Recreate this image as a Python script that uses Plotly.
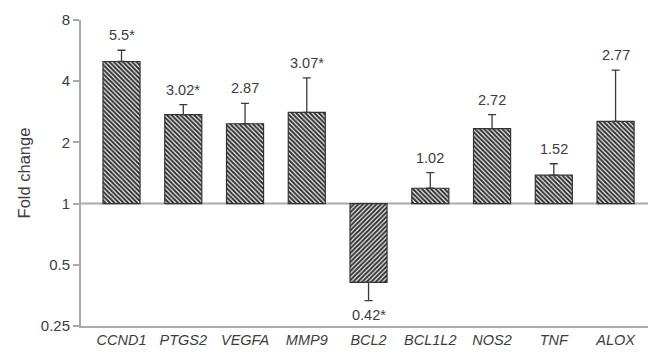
import math
import plotly.graph_objects as go

genes = ["CCND1", "PTGS2", "VEGFA", "MMP9", "BCL2", "BCL1L2", "NOS2", "TNF", "ALOX"]
bar_values = [5.0, 2.74, 2.47, 2.81, 0.41, 1.19, 2.34, 1.38, 2.54]
error_ends = [5.68, 3.07, 3.11, 4.15, 0.333, 1.42, 2.74, 1.57, 4.53]
labels = ["5.5*", "3.02*", "2.87", "3.07*", "0.42*", "1.02", "2.72", "1.52", "2.77"]
y_ticks = [0.25, 0.5, 1, 2, 4, 8]

base = 1.0
ymin, ymax = 0.25, 8
sizes = [v - base for v in bar_values]
err_plus = [max(e - v, 0) if v >= base else 0 for v, e in zip(bar_values, error_ends)]
err_minus = [max(v - e, 0) if v < base else 0 for v, e in zip(bar_values, error_ends)]
shapes_pat = ["/" if v < base else "\\" for v in bar_values]

fig = go.Figure()
fig.add_trace(go.Bar(
    x=genes, y=sizes, base=[base] * len(genes), width=0.6,
    marker=dict(
        color="white",
        line=dict(color="#333333", width=1.2),
        pattern=dict(shape=shapes_pat, fgcolor="#2e2e2e", bgcolor="#eeeeee",
                     size=3.2, solidity=0.6, fillmode="replace"),
    ),
    error_y=dict(type="data", symmetric=False, array=err_plus, arrayminus=err_minus,
                 color="#3a3a3a", thickness=1.3, width=4),
    showlegend=False,
))

annotations = []
for g, v, e, t in zip(genes, bar_values, error_ends, labels):
    up = v >= base
    annotations.append(dict(
        x=g, y=math.log10(e), xref="x", yref="y", text=t, showarrow=False,
        yanchor="bottom" if up else "top", yshift=5 if up else -4,
        font=dict(family="Liberation Sans, Arial, sans-serif", size=14.5, color="#3d3d3d"),
    ))

base_frac = (math.log10(base) - math.log10(ymin)) / (math.log10(ymax) - math.log10(ymin))

# page body has an 8px margin, so the figure is sized and offset to compensate
fig.update_layout(
    width=648, height=348,
    margin=dict(l=73, r=8, t=12, b=30),
    plot_bgcolor="white", paper_bgcolor="white",
    annotations=annotations,
    shapes=[dict(type="line", xref="paper", x0=0, x1=1, yref="paper",
                 y0=base_frac, y1=base_frac,
                 line=dict(color="#aaaaaa", width=2), layer="below")],
    font=dict(family="Liberation Sans, Arial, sans-serif", color="#3d3d3d"),
)
fig.update_yaxes(
    type="log", range=[math.log10(ymin), math.log10(ymax)],
    tickvals=y_ticks, ticktext=[str(v) for v in y_ticks],
    showgrid=False, zeroline=False, automargin=False,
    showline=True, linecolor="#aaaaaa", linewidth=2,
    ticks="outside", ticklen=6, tickcolor="#aaaaaa", tickwidth=1.5,
    tickfont=dict(size=15, color="#3d3d3d"),
    title=dict(text="Fold change", font=dict(size=16.5, color="#3d3d3d"), standoff=6),
)
fig.update_xaxes(
    range=[-0.656, 8.525], showgrid=False, zeroline=False, automargin=False,
    showline=True, linecolor="#aaaaaa", linewidth=2, ticks="",
    tickfont=dict(size=14.5, color="#3d3d3d", style="italic"),
)
fig.write_html("out.html")
